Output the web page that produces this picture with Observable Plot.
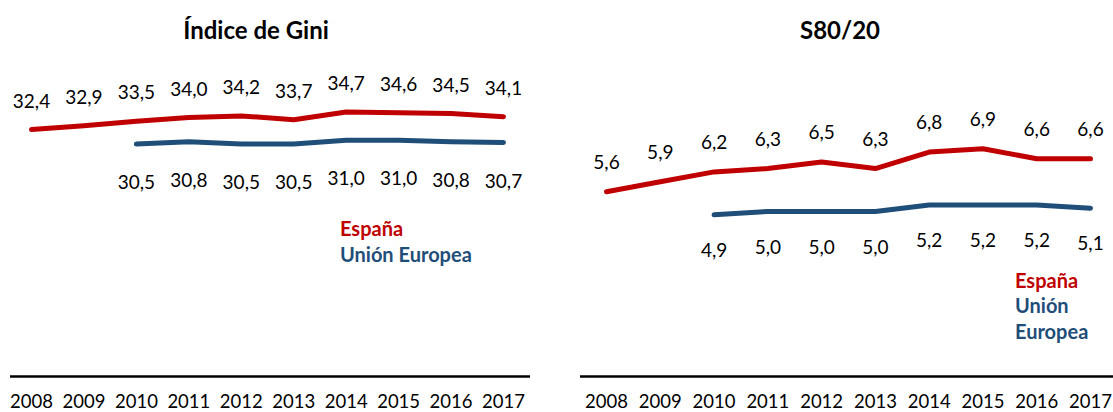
<!DOCTYPE html>
<html>
<head>
<meta charset="utf-8">
<script src="https://cdn.jsdelivr.net/npm/d3@7"></script>
<script src="https://cdn.jsdelivr.net/npm/@observablehq/plot@0.6"></script>
<style>
  body { margin: 0; background: #fff; }
  #wrap { position: relative; width: 1113px; height: 412px; overflow: hidden; font-family: Lato, "Open Sans", sans-serif; }
  .title { position: absolute; top: 16px; line-height: 28px; font-size: 24px; font-weight: bold; text-align: center; color: #000; }
  .panel { position: absolute; top: 48px; }
  .leg { position: absolute; font-size: 20px; font-weight: bold; line-height: 26px; }
</style>
</head>
<body>
<div id="wrap">
  <div class="title" style="left:0px;width:512px;">Índice de Gini</div>
  <div class="title" style="left:640px;width:400px;">S80/20</div>
  <div class="panel" id="left" style="left:0px;"></div>
  <div class="panel" id="right" style="left:557px;"></div>
  <div class="leg" style="left:340px;top:215px;color:#C00000;">España</div>
  <div class="leg" style="left:340px;top:241px;color:#1F4E79;">Unión Europea</div>
  <div class="leg" style="left:1015px;top:267px;color:#C00000;">España</div>
  <div class="leg" style="left:1015px;top:292px;color:#1F4E79;">Unión<br>Europea</div>
</div>
<script>
const years = [2008, 2009, 2010, 2011, 2012, 2013, 2014, 2015, 2016, 2017];
const giniEspana = [32.4, 32.9, 33.5, 34.0, 34.2, 33.7, 34.7, 34.6, 34.5, 34.1];
const giniUE = [null, null, 30.5, 30.8, 30.5, 30.5, 31.0, 31.0, 30.8, 30.7];
const s8020Espana = [5.6, 5.9, 6.2, 6.3, 6.5, 6.3, 6.8, 6.9, 6.6, 6.6];
const s8020UE = [null, null, 4.9, 5.0, 5.0, 5.0, 5.2, 5.2, 5.2, 5.1];

const RED = "#C00000", BLUE = "#1F4E79";
const fmt = v => v.toFixed(1).replace(".", ",");
const rows = vals => years.map((x, i) => ({x, y: vals[i]})).filter(d => d.y != null);

function panel({width, marginLeft, marginRight, insetLeft, insetRight, ymax, pxPerUnit, es, ue, dyEs, dyUe}) {
  const height = 364, axisY = 328;
  const marginTop = axisY - ymax * pxPerUnit;
  const esRows = rows(es), ueRows = rows(ue);
  return Plot.plot({
    width, height,
    marginLeft, marginRight, marginTop, marginBottom: height - axisY,
    insetLeft, insetRight,
    style: {fontFamily: "Lato, 'Open Sans', sans-serif", fontSize: "18.5px", color: "#000", background: "transparent", overflow: "visible"},
    x: {type: "linear", domain: [years[0], years[years.length - 1]], ticks: years, tickFormat: d => String(d), tickSize: 0, tickPadding: 18, label: null},
    y: {domain: [0, ymax], axis: null},
    marks: [
      Plot.ruleY([0], {stroke: "#000", strokeWidth: 2.5}),
      Plot.line(esRows, {x: "x", y: "y", stroke: RED, strokeWidth: 5, strokeLinecap: "round", strokeLinejoin: "round"}),
      Plot.line(ueRows, {x: "x", y: "y", stroke: BLUE, strokeWidth: 5, strokeLinecap: "round", strokeLinejoin: "round"}),
      Plot.text(esRows, {x: "x", y: "y", text: d => fmt(d.y), dy: dyEs, fill: "#000", fontSize: 19}),
      Plot.text(ueRows, {x: "x", y: "y", text: d => fmt(d.y), dy: dyUe, fill: "#000", fontSize: 19})
    ]
  });
}

document.getElementById("left").appendChild(panel({
  width: 545, marginLeft: 10, marginRight: 15, insetLeft: 21, insetRight: 27,
  ymax: 40, pxPerUnit: 7.62, es: giniEspana, ue: giniUE, dyEs: -28, dyUe: 39
}));
document.getElementById("right").appendChild(panel({
  width: 556, marginLeft: 23, marginRight: 0, insetLeft: 26, insetRight: 23,
  ymax: 8, pxPerUnit: 33, es: s8020Espana, ue: s8020UE, dyEs: -29, dyUe: 36
}));
</script>
</body>
</html>
